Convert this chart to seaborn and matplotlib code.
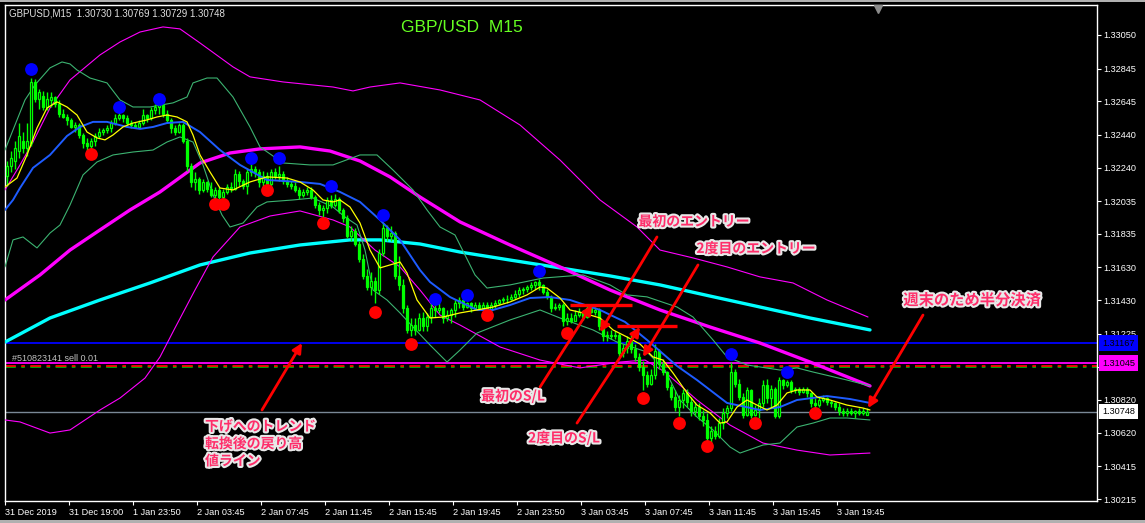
import numpy as np
import pandas as pd
import matplotlib
matplotlib.use("Agg")
import matplotlib.pyplot as plt
import matplotlib.patheffects as pe
from matplotlib.patches import Rectangle
from matplotlib.transforms import blended_transform_factory
import seaborn as sns

# ---------------- data ----------------
O = [1.3219,1.3225,1.3228,1.3234,1.3240,1.3236,1.3239,1.3276,1.3266,1.3268,1.3261,1.3265,1.3267,1.3263,1.3257,1.3255,
     1.3253,1.3249,1.3250,1.3244,1.3239,1.3237,1.3240,1.3243,1.3246,1.3247,1.3248,1.3251,1.3254,1.3256,1.3254,1.3251,
     1.3250,1.3249,1.3251,1.3256,1.3254,1.3259,1.3261,1.3262,1.3257,1.3253,1.3248,1.3246,1.3250,1.3240,1.3225,1.3215,
     1.3217,1.3210,1.3215,1.3211,1.3207,1.3210,1.3206,1.3209,1.3212,1.3211,1.3220,1.3216,1.3213,1.3221,1.3223,1.3221,
     1.3215,1.3219,1.3214,1.3221,1.3219,1.3220,1.3216,1.3214,1.3213,1.3210,1.3207,1.3209,1.3210,1.3206,1.3201,1.3198,
     1.3199,1.3204,1.3201,1.3205,1.3198,1.3193,1.3182,1.3185,1.3177,1.3168,1.3158,1.3151,1.3155,1.3149,1.3172,1.3187,
     1.3182,1.3184,1.3158,1.3152,1.3138,1.3125,1.3128,1.3125,1.3132,1.3127,1.3133,1.3138,1.3137,1.3138,1.3132,1.3134,
     1.3137,1.3141,1.3143,1.3139,1.3141,1.3138,1.3140,1.3138,1.3140,1.3137,1.3140,1.3141,1.3143,1.3144,1.3144,1.3145,
     1.3147,1.3149,1.3150,1.3151,1.3152,1.3154,1.3152,1.3148,1.3145,1.3138,1.3139,1.3140,1.3130,1.3132,1.3130,1.3134,
     1.3136,1.3133,1.3138,1.3136,1.3137,1.3127,1.3121,1.3122,1.3121,1.3122,1.3111,1.3114,1.3118,1.3113,1.3108,1.3102,
     1.3097,1.3092,1.3097,1.3112,1.3104,1.3099,1.3090,1.3084,1.3078,1.3082,1.3086,1.3081,1.3075,1.3078,1.3072,1.3070,
     1.3059,1.3063,1.3060,1.3068,1.3074,1.3077,1.3099,1.3092,1.3084,1.3073,1.3088,1.3073,1.3076,1.3080,1.3091,1.3083,
     1.3089,1.3072,1.3094,1.3091,1.3093,1.3088,1.3089,1.3087,1.3089,1.3086,1.3080,1.3079,1.3082,1.3083,1.3081,1.3080,
     1.3078,1.3075,1.3074,1.3075,1.3074,1.3075,1.3074,1.30730]
H = [1.3228,1.3234,1.3240,1.3251,1.3246,1.3251,1.3279,1.3278,1.3272,1.3271,1.3270,1.3270,1.3268,1.3265,1.3260,1.3257,
     1.3254,1.3252,1.3251,1.3245,1.3242,1.3242,1.3245,1.3248,1.3248,1.3250,1.3253,1.3257,1.3259,1.3257,1.3256,1.3253,
     1.3252,1.3253,1.3260,1.3257,1.3261,1.3263,1.3263,1.3264,1.3259,1.3254,1.3250,1.3251,1.3251,1.3242,1.3227,1.3221,
     1.3218,1.3217,1.3216,1.3215,1.3212,1.3212,1.3211,1.3214,1.3215,1.3223,1.3222,1.3217,1.3223,1.3226,1.3225,1.3223,
     1.3222,1.3221,1.3223,1.3224,1.3225,1.3222,1.3218,1.3216,1.3215,1.3212,1.3211,1.3212,1.3212,1.3207,1.3203,1.3201,
     1.3206,1.3207,1.3208,1.3206,1.3199,1.3195,1.3188,1.3187,1.3179,1.3171,1.3162,1.3160,1.3157,1.3174,1.3190,1.3189,
     1.3188,1.3185,1.3170,1.3156,1.3140,1.3132,1.3132,1.3135,1.3136,1.3135,1.3141,1.3140,1.3141,1.3139,1.3137,1.3138,
     1.3143,1.3145,1.3144,1.3142,1.3142,1.3142,1.3142,1.3142,1.3142,1.3142,1.3143,1.3144,1.3145,1.3146,1.3147,1.3149,
     1.3151,1.3151,1.3152,1.3154,1.3155,1.3156,1.3153,1.3150,1.3146,1.3141,1.3141,1.3141,1.3135,1.3135,1.3137,1.3138,
     1.3137,1.3140,1.3140,1.3139,1.3138,1.3129,1.3124,1.3125,1.3124,1.3123,1.3116,1.3121,1.3122,1.3116,1.3111,1.3106,
     1.3100,1.3101,1.3116,1.3113,1.3107,1.3100,1.3092,1.3088,1.3085,1.3089,1.3089,1.3084,1.3081,1.3080,1.3076,1.3074,
     1.3066,1.3066,1.3071,1.3077,1.3079,1.3105,1.3101,1.3095,1.3086,1.3090,1.3089,1.3079,1.3083,1.3094,1.3095,1.3091,
     1.3090,1.3096,1.3095,1.3094,1.3094,1.3090,1.3090,1.3090,1.3090,1.3087,1.3083,1.3084,1.3085,1.3084,1.3082,1.3081,
     1.3080,1.3077,1.3077,1.3077,1.3076,1.3077,1.3077,1.30769]
L = [1.3213,1.3221,1.3223,1.3230,1.3233,1.3231,1.3237,1.3264,1.3260,1.3259,1.3259,1.3261,1.3261,1.3255,1.3254,1.3250,
     1.3248,1.3246,1.3242,1.3236,1.3234,1.3233,1.3237,1.3242,1.3244,1.3245,1.3246,1.3250,1.3253,1.3252,1.3250,1.3248,
     1.3248,1.3248,1.3250,1.3252,1.3253,1.3257,1.3257,1.3255,1.3251,1.3245,1.3244,1.3245,1.3239,1.3222,1.3212,1.3210,
     1.3208,1.3209,1.3209,1.3206,1.3205,1.3205,1.3205,1.3208,1.3209,1.3210,1.3213,1.3211,1.3208,1.3219,1.3218,1.3212,
     1.3213,1.3212,1.3213,1.3217,1.3216,1.3214,1.3212,1.3211,1.3209,1.3205,1.3206,1.3207,1.3205,1.3199,1.3195,1.3194,
     1.3196,1.3199,1.3200,1.3196,1.3191,1.3181,1.3179,1.3176,1.3166,1.3156,1.3149,1.3146,1.3141,1.3147,1.3170,1.3179,
     1.3179,1.3156,1.3149,1.3135,1.3123,1.3121,1.3122,1.3124,1.3124,1.3124,1.3129,1.3133,1.3135,1.3129,1.3130,1.3129,
     1.3133,1.3138,1.3137,1.3138,1.3136,1.3137,1.3137,1.3138,1.3136,1.3136,1.3138,1.3140,1.3141,1.3141,1.3143,1.3144,
     1.3145,1.3147,1.3148,1.3149,1.3150,1.3149,1.3147,1.3144,1.3136,1.3137,1.3137,1.3127,1.3128,1.3129,1.3130,1.3133,
     1.3131,1.3132,1.3135,1.3134,1.3125,1.3118,1.3118,1.3119,1.3119,1.3108,1.3108,1.3111,1.3111,1.3106,1.3100,1.3088,
     1.3090,1.3091,1.3095,1.3101,1.3097,1.3088,1.3082,1.3075,1.3072,1.3077,1.3078,1.3072,1.3072,1.3070,1.3066,1.3057,
     1.3056,1.3058,1.3059,1.3064,1.3071,1.3075,1.3090,1.3082,1.3071,1.3072,1.3071,1.3072,1.3071,1.3078,1.3080,1.3077,
     1.3071,1.3071,1.3089,1.3090,1.3086,1.3086,1.3085,1.3086,1.3084,1.3078,1.3077,1.3078,1.3081,1.3079,1.3078,1.3076,
     1.3073,1.3072,1.3072,1.3073,1.3071,1.3073,1.3073,1.30729]
C = [1.3225,1.3230,1.3236,1.3243,1.3236,1.3240,1.3276,1.3266,1.3270,1.3261,1.3266,1.3267,1.3263,1.3257,1.3255,1.3253,
     1.3249,1.3250,1.3244,1.3239,1.3237,1.3240,1.3243,1.3246,1.3247,1.3248,1.3251,1.3254,1.3256,1.3254,1.3251,1.3250,
     1.3249,1.3251,1.3256,1.3254,1.3259,1.3261,1.3262,1.3257,1.3253,1.3248,1.3246,1.3250,1.3240,1.3225,1.3215,1.3217,
     1.3210,1.3215,1.3211,1.3207,1.3210,1.3206,1.3209,1.3212,1.3211,1.3220,1.3216,1.3213,1.3221,1.3223,1.3221,1.3215,
     1.3219,1.3214,1.3221,1.3219,1.3220,1.3216,1.3214,1.3213,1.3210,1.3207,1.3209,1.3210,1.3206,1.3201,1.3198,1.3199,
     1.3204,1.3201,1.3205,1.3198,1.3193,1.3182,1.3185,1.3177,1.3168,1.3158,1.3151,1.3155,1.3149,1.3172,1.3187,1.3182,
     1.3184,1.3158,1.3152,1.3138,1.3125,1.3128,1.3125,1.3132,1.3127,1.3133,1.3138,1.3137,1.3138,1.3132,1.3134,1.3137,
     1.3141,1.3143,1.3139,1.3141,1.3138,1.3140,1.3138,1.3140,1.3137,1.3140,1.3141,1.3143,1.3144,1.3144,1.3145,1.3147,
     1.3149,1.3150,1.3151,1.3152,1.3154,1.3152,1.3148,1.3145,1.3138,1.3139,1.3140,1.3130,1.3132,1.3130,1.3134,1.3136,
     1.3133,1.3138,1.3136,1.3137,1.3127,1.3121,1.3122,1.3121,1.3122,1.3111,1.3114,1.3118,1.3113,1.3108,1.3102,1.3097,
     1.3092,1.3097,1.3112,1.3104,1.3099,1.3090,1.3084,1.3078,1.3082,1.3086,1.3081,1.3075,1.3078,1.3072,1.3070,1.3059,
     1.3063,1.3060,1.3068,1.3074,1.3077,1.3099,1.3092,1.3084,1.3073,1.3088,1.3073,1.3076,1.3080,1.3091,1.3083,1.3089,
     1.3072,1.3094,1.3091,1.3093,1.3088,1.3089,1.3087,1.3089,1.3086,1.3080,1.3079,1.3082,1.3083,1.3081,1.3080,1.3078,
     1.3075,1.3074,1.3075,1.3074,1.3075,1.3074,1.3075,1.30748]

# indicator lines (bar index, price)
yellow_bar = [-0.5,2.5,5.0,7.5,10.0,12.5,15.0,17.5,20.0,22.5,24.5,26.5,29.0,31.5,35.0,37.5,40.0,42.5,45.0,46.5,48.25,50.75,53.25,56.5,60.75,65.0,70.0,73.25,76.5,79.0,81.5,83.25,85.75,88.25,90.75,93.25,95.75,98.25,100.0,102.5,105.75,109.0,113.25,117.5,121.5,125.75,130.0,133.25,135.0,138.25,140.75,144.0,148.25,151.5,155.0,158.25,161.5,164.0,166.5,170.0,172.5,175.75,178.25,180.0,182.5,185.0,187.5,190.0,192.5,195.0,197.5,200.75,202.5,205.75,210.0,214.0,215.75]
yellow_price = [1.32121,1.32176,1.32317,1.32482,1.32604,1.32641,1.32610,1.32561,1.32457,1.32421,1.32409,1.32439,1.32488,1.32512,1.32531,1.32549,1.32561,1.32549,1.32519,1.32439,1.32317,1.32213,1.32115,1.32103,1.32152,1.32183,1.32176,1.32152,1.32103,1.32042,1.32030,1.32042,1.31999,1.31901,1.31736,1.31627,1.31645,1.31663,1.31596,1.31431,1.31321,1.31327,1.31352,1.31370,1.31388,1.31419,1.31462,1.31510,1.31504,1.31443,1.31370,1.31352,1.31321,1.31248,1.31205,1.31162,1.31083,1.31064,1.30985,1.30863,1.30789,1.30741,1.30679,1.30686,1.30777,1.30820,1.30789,1.30759,1.30789,1.30863,1.30881,1.30881,1.30838,1.30820,1.30789,1.30771,1.30759]
blue_bar = [-0.5,1.5,3.25,6.5,10.75,15.0,18.25,21.5,25.0,30.0,33.25,36.5,40.0,44.0,48.25,53.25,58.25,65.0,73.25,78.25,83.25,88.25,93.25,98.25,103.25,105.75,110.75,117.5,121.5,125.75,130.75,135.75,140.75,148.25,154.5,160.0,167.5,172.5,180.0,188.25,193.25,197.5,205.0,210.75,215.75]
blue_price = [1.31981,1.32042,1.32115,1.32238,1.32317,1.32433,1.32488,1.32519,1.32519,1.32488,1.32476,1.32488,1.32512,1.32519,1.32457,1.32347,1.32256,1.32164,1.32152,1.32140,1.32091,1.32030,1.31920,1.31798,1.31614,1.31541,1.31449,1.31370,1.31370,1.31400,1.31443,1.31449,1.31431,1.31370,1.31297,1.31187,1.31028,1.30942,1.30802,1.30759,1.30777,1.30820,1.30844,1.30826,1.30802]
mag_bar = [-0.5,8.25,15.75,23.25,30.75,38.25,48.25,55.75,63.25,73.25,80.75,88.25,95.75,103.25,113.25,125.75,138.25,150.75,163.25,175.75,188.25,200.75,215.75]
mag_price = [1.31431,1.31584,1.31736,1.31859,1.31981,1.32091,1.32268,1.32329,1.32354,1.32366,1.32341,1.32280,1.32183,1.32060,1.31908,1.31767,1.31633,1.31492,1.31370,1.31266,1.31168,1.31052,1.30906]
cyan_bar = [-0.5,10.75,23.25,35.75,48.25,60.75,73.25,85.75,93.25,103.25,113.25,125.75,138.25,150.75,163.25,175.75,188.25,200.75,215.75]
cyan_price = [1.31174,1.31321,1.31431,1.31535,1.31645,1.31718,1.31767,1.31798,1.31798,1.31773,1.31724,1.31675,1.31627,1.31578,1.31523,1.31455,1.31388,1.31321,1.31248]
magup_bar = [-0.5,3.25,6.5,10.75,15.75,23.25,28.25,33.25,39.0,43.25,48.25,56.5,60.75,69.0,81.5,86.5,90.75,98.25,108.25,118.25,128.25,138.25,148.25,157.5,163.25,171.5,180.0,188.25,196.5,205.0,215.25]
magup_price = [1.32103,1.32256,1.32396,1.32604,1.32775,1.32928,1.33007,1.33068,1.33099,1.33087,1.33001,1.32855,1.32794,1.32763,1.32732,1.32708,1.32732,1.32757,1.32714,1.32653,1.32500,1.32286,1.32042,1.31877,1.31736,1.31688,1.31633,1.31572,1.31535,1.31431,1.31327]
maglo_bar = [-0.5,3.25,10.75,15.75,23.25,28.25,34.5,38.25,42.0,47.0,51.5,58.25,65.75,73.25,81.5,85.75,92.0,98.25,103.25,108.25,113.25,123.25,133.25,143.25,153.25,159.5,164.5,172.5,180.75,189.0,197.5,205.75,215.75]
maglo_price = [1.30698,1.30686,1.30618,1.30637,1.30759,1.30832,1.30954,1.31083,1.31260,1.31492,1.31694,1.31877,1.31944,1.31975,1.31920,1.31877,1.31736,1.31633,1.31492,1.31339,1.31278,1.31144,1.31064,1.31016,1.31052,1.31064,1.30991,1.30820,1.30667,1.30557,1.30514,1.30484,1.30496]
grnup_bar = [-0.5,2.0,4.5,7.0,10.75,13.75,15.75,17.5,20.75,25.0,28.25,31.5,35.75,41.5,45.0,46.5,50.0,52.5,56.5,60.75,63.25,69.0,75.75,81.5,88.25,92.5,96.5,101.5,105.0,108.25,112.0,114.5,117.0,120.0,125.75,134.0,144.0,150.75,155.0,160.0,167.5,171.5,176.5,180.0,185.0,193.25,197.5,201.5,210.0,215.75]
grnup_price = [1.32347,1.32500,1.32653,1.32745,1.32849,1.32885,1.32873,1.32836,1.32787,1.32757,1.32653,1.32610,1.32610,1.32635,1.32671,1.32757,1.32787,1.32787,1.32671,1.32488,1.32366,1.32268,1.32256,1.32256,1.32317,1.32317,1.32225,1.32103,1.31981,1.31877,1.31828,1.31706,1.31584,1.31504,1.31523,1.31565,1.31584,1.31523,1.31462,1.31450,1.31388,1.31327,1.31187,1.31083,1.31034,1.31003,1.31016,1.30991,1.30942,1.30906]
grnlo_bar = [-0.5,1.5,4.0,7.5,10.75,13.25,15.75,19.0,22.5,26.5,31.5,36.5,40.0,43.25,46.5,49.0,51.5,53.75,55.75,59.0,62.5,65.0,71.5,76.5,81.5,84.5,87.5,89.5,91.5,95.0,98.25,101.5,105.75,110.0,113.25,117.5,125.75,133.25,138.25,146.5,152.5,160.0,164.5,168.25,172.5,176.5,180.75,183.25,189.0,193.25,197.5,201.5,205.75,210.0,215.75]
grnlo_price = [1.31633,1.31798,1.31816,1.31749,1.31840,1.31889,1.32011,1.32195,1.32274,1.32317,1.32335,1.32347,1.32396,1.32427,1.32396,1.32256,1.32073,1.31950,1.31877,1.31901,1.31999,1.32030,1.32042,1.32054,1.31999,1.31938,1.31889,1.31736,1.31492,1.31431,1.31352,1.31266,1.31156,1.31052,1.31125,1.31229,1.31309,1.31370,1.31321,1.31248,1.31174,1.31113,1.31003,1.30820,1.30716,1.30637,1.30533,1.30496,1.30545,1.30557,1.30655,1.30679,1.30710,1.30710,1.30698]

# fractal markers
up_bars = [6, 28, 38, 61, 68, 81, 94, 107, 115, 133, 181, 195]
up_prices = [1.3284, 1.3261, 1.3266, 1.3230, 1.3230, 1.3213, 1.3195, 1.3144, 1.3146, 1.3161, 1.3110, 1.3099]
down_bars = [21, 52, 54, 65, 79, 92, 101, 120, 140, 159, 168, 175, 187, 202]
down_prices = [1.3232, 1.3202, 1.3202, 1.3210, 1.3190, 1.3136, 1.3116, 1.3134, 1.3123, 1.3083, 1.3068, 1.3054, 1.3068, 1.3074]

# levels
level_line = 1.31167
ma_level = 1.31045
order_price = 1.31025
order_label = "#510823141 sell 0.01"

price_ticks = [1.33050, 1.32845, 1.32645, 1.32440, 1.32240, 1.32035, 1.31835, 1.31630,
               1.31430, 1.31225, 1.31020, 1.30820, 1.30620, 1.30415, 1.30215]
time_labels = ["31 Dec 2019", "31 Dec 19:00", "1 Jan 23:50", "2 Jan 03:45", "2 Jan 07:45",
               "2 Jan 11:45", "2 Jan 15:45", "2 Jan 19:45", "2 Jan 23:50", "3 Jan 03:45",
               "3 Jan 07:45", "3 Jan 11:45", "3 Jan 15:45", "3 Jan 19:45"]
time_bars = [0, 16, 32, 48, 64, 80, 96, 112, 128, 144, 160, 176, 192, 208]

# annotations
note_texts = ["最初のエントリー", "2度目のエントリー", "最初のS/L", "2度目のS/L",
              "週末のため半分決済", "下げへのトレンド\n転換後の戻り高\n値ライン"]
note_bar = [171.75, 187.25, 126.5, 139.25, 241.25, 49.5]
note_price = [1.31908, 1.31743, 1.30844, 1.30588, 1.31431, 1.30551]
note_size = [10, 10, 10, 10, 11, 10]
arrow_tail_bar = [162.5, 172.75, 133.25, 142.5, 229.0, 63.75]
arrow_tail_price = [1.31816, 1.31645, 1.30899, 1.30679, 1.31339, 1.30759]
arrow_head_bar = [148.25, 159.0, 146.25, 158.25, 215.25, 73.75]
arrow_head_price = [1.31235, 1.31083, 1.31400, 1.31266, 1.30771, 1.31168]
sl_price = [1.31400, 1.31272]
sl_start = [140.75, 152.5]
sl_end = [156.25, 167.5]

# ---------------- style ----------------
sns.set_style("dark", {"axes.facecolor": "black", "figure.facecolor": "black",
                       "axes.edgecolor": "white", "text.color": "white"})
plt.rcParams['font.family'] = ['Liberation Sans', 'DejaVu Sans']
JP = ['Noto Sans CJK JP', 'DejaVu Sans']

W, HP = 1145, 523
fig = plt.figure(figsize=(W / 100, HP / 100), dpi=100, facecolor='black')
ax = fig.add_axes([5 / W, 22 / HP, 1092 / W, 496 / HP])
ax.set_facecolor('black')
ax.grid(False)

# horizontal levels
ax.axhline(level_line, color='#0000FF', lw=1.3, zorder=1.5)
ax.axhline(ma_level, color='#FF00FF', lw=1.3, zorder=1.5)
ax.axhline(order_price - 0.00003, color='#00B000', lw=1.3, dashes=(6, 3, 2, 3), zorder=1.5)
ax.axhline(order_price + 0.00002, color='#FF0000', lw=1.3, dashes=(6, 3, 2, 3), zorder=1.6)
ax.axhline(C[-1], color='#7A8896', lw=1.0, zorder=1.5)

# indicator lines
def line(xs, ys, color, lw, z):
    df = pd.DataFrame({"bar": xs, "price": ys})
    sns.lineplot(data=df, x="bar", y="price", ax=ax, color=color, linewidth=lw,
                 sort=False, estimator=None, zorder=z, legend=False)

line(cyan_bar, cyan_price, '#00FFFF', 2.4, 3)
line(mag_bar, mag_price, '#FF00FF', 2.4, 3)
line(magup_bar, magup_price, '#FF00FF', 0.8, 3)
line(maglo_bar, maglo_price, '#FF00FF', 0.8, 3)
line(grnup_bar, grnup_price, '#3CB371', 0.8, 3)
line(grnlo_bar, grnlo_price, '#3CB371', 0.8, 3)

# candles
o = np.array(O); h = np.array(H); l = np.array(L); c = np.array(C)
idx = np.arange(len(c))
up = c >= o
ax.vlines(idx, l, h, color='#00FF00', lw=1.0, zorder=4)
bot = np.minimum(o, c)
hgt = np.abs(c - o)
ax.bar(idx[up], hgt[up], bottom=bot[up], width=0.72, color='black',
       edgecolor='#00FF00', linewidth=0.9, zorder=4.1)
ax.bar(idx[~up], hgt[~up], bottom=bot[~up], width=0.72, color='#00FF00',
       edgecolor='#00FF00', linewidth=0.9, zorder=4.1)

line(blue_bar, blue_price, '#1E5CFF', 1.4, 5)
line(yellow_bar, yellow_price, '#FFFF00', 0.9, 5)

# fractal dots
sns.scatterplot(x=up_bars, y=up_prices, ax=ax, color='#0000FF', s=85, linewidth=0, zorder=6)
sns.scatterplot(x=down_bars, y=down_prices, ax=ax, color='#FF0000', s=85, linewidth=0, zorder=6)

# user drawings
ax.hlines(sl_price, sl_start, sl_end, color='#FF0000', lw=2.4, zorder=7)
for tb, tp, hb, hp in zip(arrow_tail_bar, arrow_tail_price, arrow_head_bar, arrow_head_price):
    ax.annotate('', xy=(hb, hp), xytext=(tb, tp),
                arrowprops=dict(arrowstyle='-|>', color='#FF0000', lw=2,
                                mutation_scale=14, shrinkA=0, shrinkB=0), zorder=7)
stroke = [pe.withStroke(linewidth=3, foreground='#E8E8E8')]
for t, b, p, sz in zip(note_texts, note_bar, note_price, note_size):
    multi = '\n' in t
    ax.text(b, p, t, family=JP, fontsize=sz, fontweight='bold', color='#FF2D6A',
            ha='left' if multi else 'center', va='center', linespacing=1.3,
            path_effects=stroke, zorder=8)

ax.text(1.25, order_price + 0.0005, order_label, fontsize=6.5, color='#C0C0C0',
        ha='left', va='center', zorder=8)

# axes
ax.set_xlim(-0.5, 272.5)
ax.set_ylim(1.30203, 1.33233)
ax.set_xlabel('')
ax.set_ylabel('')
ax.yaxis.tick_right()
ax.set_yticks(price_ticks)
ax.set_yticklabels([f"{v:.5f}" for v in price_ticks])
ax.set_xticks([b - 0.5 for b in time_bars])
ax.set_xticklabels(time_labels)
for lbl in ax.get_xticklabels():
    lbl.set_ha('left')
ax.tick_params(axis='y', colors='white', labelcolor='white', labelsize=6.6,
               length=3, width=0.8, direction='out', pad=1.5, right=True, left=False)
ax.tick_params(axis='x', colors='white', labelcolor='white', labelsize=6.6,
               length=3, width=0.8, direction='out', pad=2, bottom=True)
for sp in ax.spines.values():
    sp.set_color('white')
    sp.set_linewidth(1.0)
    sp.set_visible(True)

# price boxes on the right scale
trans = blended_transform_factory(ax.transAxes, ax.transData)
for val, fc in [(level_line, '#0000FF'), (ma_level, '#FF00FF'), (C[-1], '#FFFFFF')]:
    ax.text(1.0 + 5 / 1092, val, f"{val:.5f}", transform=trans, ha='left', va='center',
            fontsize=6.6, color='black', clip_on=False, zorder=20,
            bbox=dict(boxstyle='square,pad=0.35', fc=fc, ec='none'))

# chart shift marker
ax.plot([0.7995], [0.992], marker='v', color='#8C8C8C', markersize=6,
        transform=ax.transAxes, clip_on=False, zorder=9)

# header texts
fig.text(9 / W, 1 - 13 / HP,
         f"GBPUSD,M15  {O[-1]:.5f} {H[-1]:.5f} {L[-1]:.5f} {C[-1]:.5f}",
         color='#E0E0E0', fontsize=7, ha='left', va='center')
fig.text(462 / W, 1 - 27 / HP, "GBP/USD  M15", color='#66FF22', fontsize=12.5,
         ha='center', va='center')

# window border strips
fig.add_artist(Rectangle((0, 1 - 2 / HP), 1, 2 / HP, transform=fig.transFigure,
                         color='#B0B0B0', lw=0))
fig.add_artist(Rectangle((0, 0), 1, 3 / HP, transform=fig.transFigure,
                         color='#B0B0B0', lw=0))

fig.savefig("out.png", dpi=100, facecolor='black')
